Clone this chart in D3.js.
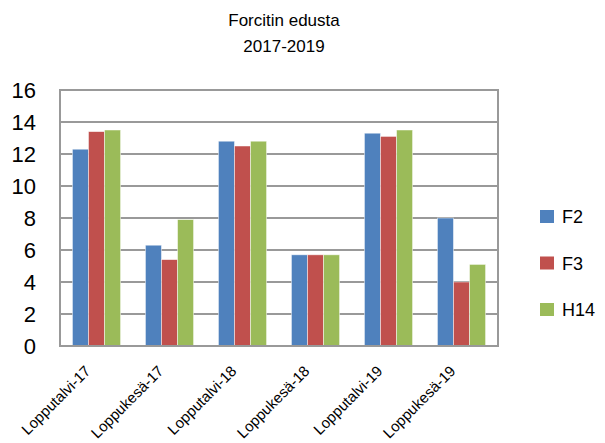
<!DOCTYPE html>
<html>
  <head>
    <meta charset="utf-8" />
    <title>Forcitin edusta</title>
    <script src="https://d3js.org/d3.v7.min.js"></script>
    <style>
      body {
        margin: 0;
        background: #fff;
      }
      text {
        font-family: "Liberation Sans", Arial, sans-serif;
        fill: #000;
      }
    </style>
  </head>
  <body>
    <svg id="viz"></svg>
    <script>
      var categories = ["Lopputalvi-17", "Loppukesä-17", "Lopputalvi-18", "Loppukesä-18", "Lopputalvi-19", "Loppukesä-19"];
      var seriesNames = ["F2", "F3", "H14"];
      var f2 = [12.3, 6.3, 12.8, 5.7, 13.3, 8.0];
      var f3 = [13.4, 5.4, 12.5, 5.7, 13.1, 4.0];
      var h14 = [13.5, 7.9, 12.8, 5.7, 13.5, 5.1];
      var yTicks = [0, 2, 4, 6, 8, 10, 12, 14, 16];
      var colors = ["#4F81BD", "#C0504D", "#9BBB59"];

      var seriesValues = [f2, f3, h14];

      var width = 605, height = 443;
      var plotLeft = 60, plotRight = 498, plotTop = 90, plotBottom = 346;

      var svg = d3.select("#viz")
        .attr("width", width)
        .attr("height", height);

      var x = d3.scaleBand()
        .domain(categories)
        .range([plotLeft, plotRight])
        .paddingInner(0.34)
        .paddingOuter(0.17);

      var xs = d3.scaleBand()
        .domain(seriesNames)
        .range([0, x.bandwidth()]);

      var y = d3.scaleLinear()
        .domain([0, 16])
        .range([plotBottom, plotTop]);

      // gridlines
      svg.append("g")
        .selectAll("line")
        .data(yTicks)
        .enter().append("line")
        .attr("x1", plotLeft)
        .attr("x2", plotRight)
        .attr("y1", function(d) { return y(d); })
        .attr("y2", function(d) { return y(d); })
        .attr("stroke", "#999")
        .attr("stroke-width", 2);

      // border left / right
      svg.append("line")
        .attr("x1", plotLeft).attr("x2", plotLeft)
        .attr("y1", plotTop - 1).attr("y2", plotBottom + 1)
        .attr("stroke", "#999").attr("stroke-width", 2);
      svg.append("line")
        .attr("x1", plotRight).attr("x2", plotRight)
        .attr("y1", plotTop - 1).attr("y2", plotBottom + 1)
        .attr("stroke", "#999").attr("stroke-width", 2);

      // bars
      var groups = svg.append("g")
        .selectAll("g")
        .data(categories)
        .enter().append("g")
        .attr("transform", function(d) { return "translate(" + x(d) + ",0)"; });

      groups.selectAll("rect")
        .data(function(d, i) {
          return seriesNames.map(function(s, j) {
            return { name: s, value: seriesValues[j][i], color: colors[j] };
          });
        })
        .enter().append("rect")
        .attr("x", function(d) { return xs(d.name); })
        .attr("width", xs.bandwidth())
        .attr("y", function(d) { return y(d.value); })
        .attr("height", function(d) { return plotBottom - y(d.value); })
        .attr("fill", function(d) { return d.color; })
        .attr("stroke", "rgba(255,255,255,0.6)")
        .attr("stroke-width", 0.8);

      // bottom axis line
      svg.append("line")
        .attr("x1", plotLeft - 1).attr("x2", plotRight + 1)
        .attr("y1", plotBottom).attr("y2", plotBottom)
        .attr("stroke", "#999").attr("stroke-width", 2);

      // y tick labels
      svg.append("g")
        .selectAll("text")
        .data(yTicks)
        .enter().append("text")
        .attr("x", 36)
        .attr("y", function(d) { return y(d); })
        .attr("dy", "0.36em")
        .attr("text-anchor", "end")
        .attr("font-size", 22)
        .text(function(d) { return d; });

      // x labels
      svg.append("g")
        .selectAll("text")
        .data(categories)
        .enter().append("text")
        .attr("text-anchor", "end")
        .attr("font-size", 15)
        .attr("transform", function(d) {
          return "translate(" + (x(d) + x.bandwidth() / 2 - 5) + "," + 372 + ") rotate(-45)";
        })
        .text(function(d) { return d; });

      // title
      var title = svg.append("text")
        .attr("text-anchor", "middle")
        .attr("font-size", 17);
      title.append("tspan").attr("x", 284).attr("y", 26).text("Forcitin edusta");
      title.append("tspan").attr("x", 284).attr("y", 52).text("2017-2019");

      // legend
      var legend = svg.append("g")
        .selectAll("g")
        .data(seriesNames)
        .enter().append("g")
        .attr("transform", function(d, i) { return "translate(540," + (210 + i * 46.5) + ")"; });

      legend.append("rect")
        .attr("width", 14)
        .attr("height", 13)
        .attr("fill", function(d, i) { return colors[i]; });

      legend.append("text")
        .attr("x", 22)
        .attr("y", 13)
        .attr("font-size", 18)
        .text(function(d) { return d; });
    </script>
  </body>
</html>
